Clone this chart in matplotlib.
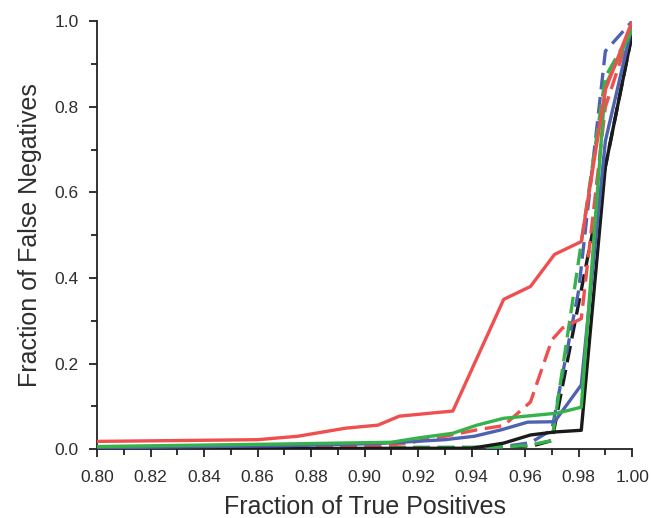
import matplotlib
matplotlib.use('Agg')
import matplotlib.pyplot as plt
from matplotlib.ticker import MultipleLocator

OUT_FILE = "out.png"

# curves (x = fraction of true positives)
RED_X   = [0.80, 0.86, 0.875, 0.893, 0.905, 0.913, 0.933, 0.952, 0.962, 0.971, 0.981, 0.99, 1.00]
RED_Y   = [0.018, 0.022, 0.030, 0.049, 0.056, 0.077, 0.089, 0.350, 0.380, 0.455, 0.485, 0.84, 1.00]

RED_D_X = [0.80, 0.905, 0.918, 0.930, 0.942, 0.952, 0.962, 0.970, 0.974, 0.981, 0.99, 1.00]
RED_D_Y = [0.004, 0.006, 0.016, 0.030, 0.045, 0.055, 0.110, 0.255, 0.283, 0.305, 0.80, 0.99]

GREEN_X   = [0.80, 0.87, 0.91, 0.92, 0.933, 0.942, 0.952, 0.972, 0.981, 0.99, 1.00]
GREEN_Y   = [0.006, 0.012, 0.016, 0.026, 0.037, 0.056, 0.072, 0.084, 0.098, 0.85, 0.98]

GREEN_D_X = [0.80, 0.94, 0.955, 0.962, 0.970, 0.980, 0.99, 1.00]
GREEN_D_Y = [0.003, 0.004, 0.006, 0.010, 0.020, 0.44, 0.87, 0.98]

BLUE_X   = [0.80, 0.87, 0.905, 0.930, 0.941, 0.951, 0.961, 0.971, 0.981, 0.99, 1.00]
BLUE_Y   = [0.003, 0.008, 0.013, 0.022, 0.030, 0.045, 0.063, 0.064, 0.150, 0.72, 0.99]

BLUE_D_X = [0.80, 0.95, 0.962, 0.970, 0.980, 0.99, 1.00]
BLUE_D_Y = [0.003, 0.004, 0.015, 0.045, 0.37, 0.93, 1.00]

BLACK_X   = [0.80, 0.94, 0.952, 0.962, 0.971, 0.981, 0.99, 1.00]
BLACK_Y   = [0.001, 0.002, 0.014, 0.033, 0.040, 0.044, 0.66, 0.97]

BLACK_D_X = [0.80, 0.94, 0.952, 0.963, 0.970, 0.99, 1.00]
BLACK_D_Y = [0.002, 0.003, 0.005, 0.008, 0.020, 0.66, 0.97]

X_TICKS = [0.80, 0.82, 0.84, 0.86, 0.88, 0.90, 0.92, 0.94, 0.96, 0.98, 1.00]
Y_TICKS = [0.0, 0.2, 0.4, 0.6, 0.8, 1.0]

RED   = "#F04F4F"
GREEN = "#35B24A"
BLUE  = "#4F62B2"
BLACK = "#1A1A1A"
AXIS  = "#222222"
TEXT  = "#2E2E2E"

plt.rcParams['font.family'] = ['Liberation Sans', 'DejaVu Sans']


def plot_curves():
    fig = plt.figure(figsize=(6.51, 5.18), dpi=100)
    ax = fig.add_axes([0.149, 0.133, 0.822, 0.826])

    lw = 2.4
    dash = (0, (5, 2.3))
    # dashed first so the solids sit on top like in the original
    ax.plot(BLACK_D_X, BLACK_D_Y, color=BLACK, lw=lw, linestyle=dash)
    ax.plot(BLUE_D_X,  BLUE_D_Y,  color=BLUE,  lw=lw, linestyle=dash)
    ax.plot(GREEN_D_X, GREEN_D_Y, color=GREEN, lw=lw, linestyle=dash)
    ax.plot(RED_D_X,   RED_D_Y,   color=RED,   lw=lw, linestyle=dash)
    ax.plot(BLACK_X, BLACK_Y, color=BLACK, lw=lw)
    ax.plot(BLUE_X,  BLUE_Y,  color=BLUE,  lw=lw)
    ax.plot(GREEN_X, GREEN_Y, color=GREEN, lw=lw)
    ax.plot(RED_X,   RED_Y,   color=RED,   lw=lw)

    ax.set_xlim(0.80, 1.00)
    ax.set_ylim(0.0, 1.0)
    ax.set_xticks(X_TICKS)
    ax.set_xticklabels([f"{t:.2f}" for t in X_TICKS])
    ax.set_yticks(Y_TICKS)
    ax.set_yticklabels([f"{t:.1f}" for t in Y_TICKS])
    ax.xaxis.set_minor_locator(MultipleLocator(0.01))
    ax.yaxis.set_minor_locator(MultipleLocator(0.1))

    for side in ("top", "right"):
        ax.spines[side].set_visible(False)
    for side in ("left", "bottom"):
        ax.spines[side].set_color(AXIS)
        ax.spines[side].set_linewidth(1.3)
        ax.spines[side].set_zorder(0.5)

    ax.tick_params(which="major", direction="out", length=6, width=1.3,
                   color=AXIS, labelsize=12.5, labelcolor=TEXT, pad=7)
    ax.tick_params(axis="x", which="major", pad=9)
    ax.tick_params(which="minor", direction="out", length=4, width=1.3,
                   color=AXIS)

    ax.set_xlabel("Fraction of True Positives", fontsize=18, color=TEXT, labelpad=7)
    ax.set_ylabel("Fraction of False Negatives", fontsize=18, color=TEXT, labelpad=9)

    fig.savefig(OUT_FILE, dpi=100)
    plt.close(fig)


if __name__ == "__main__":
    plot_curves()
